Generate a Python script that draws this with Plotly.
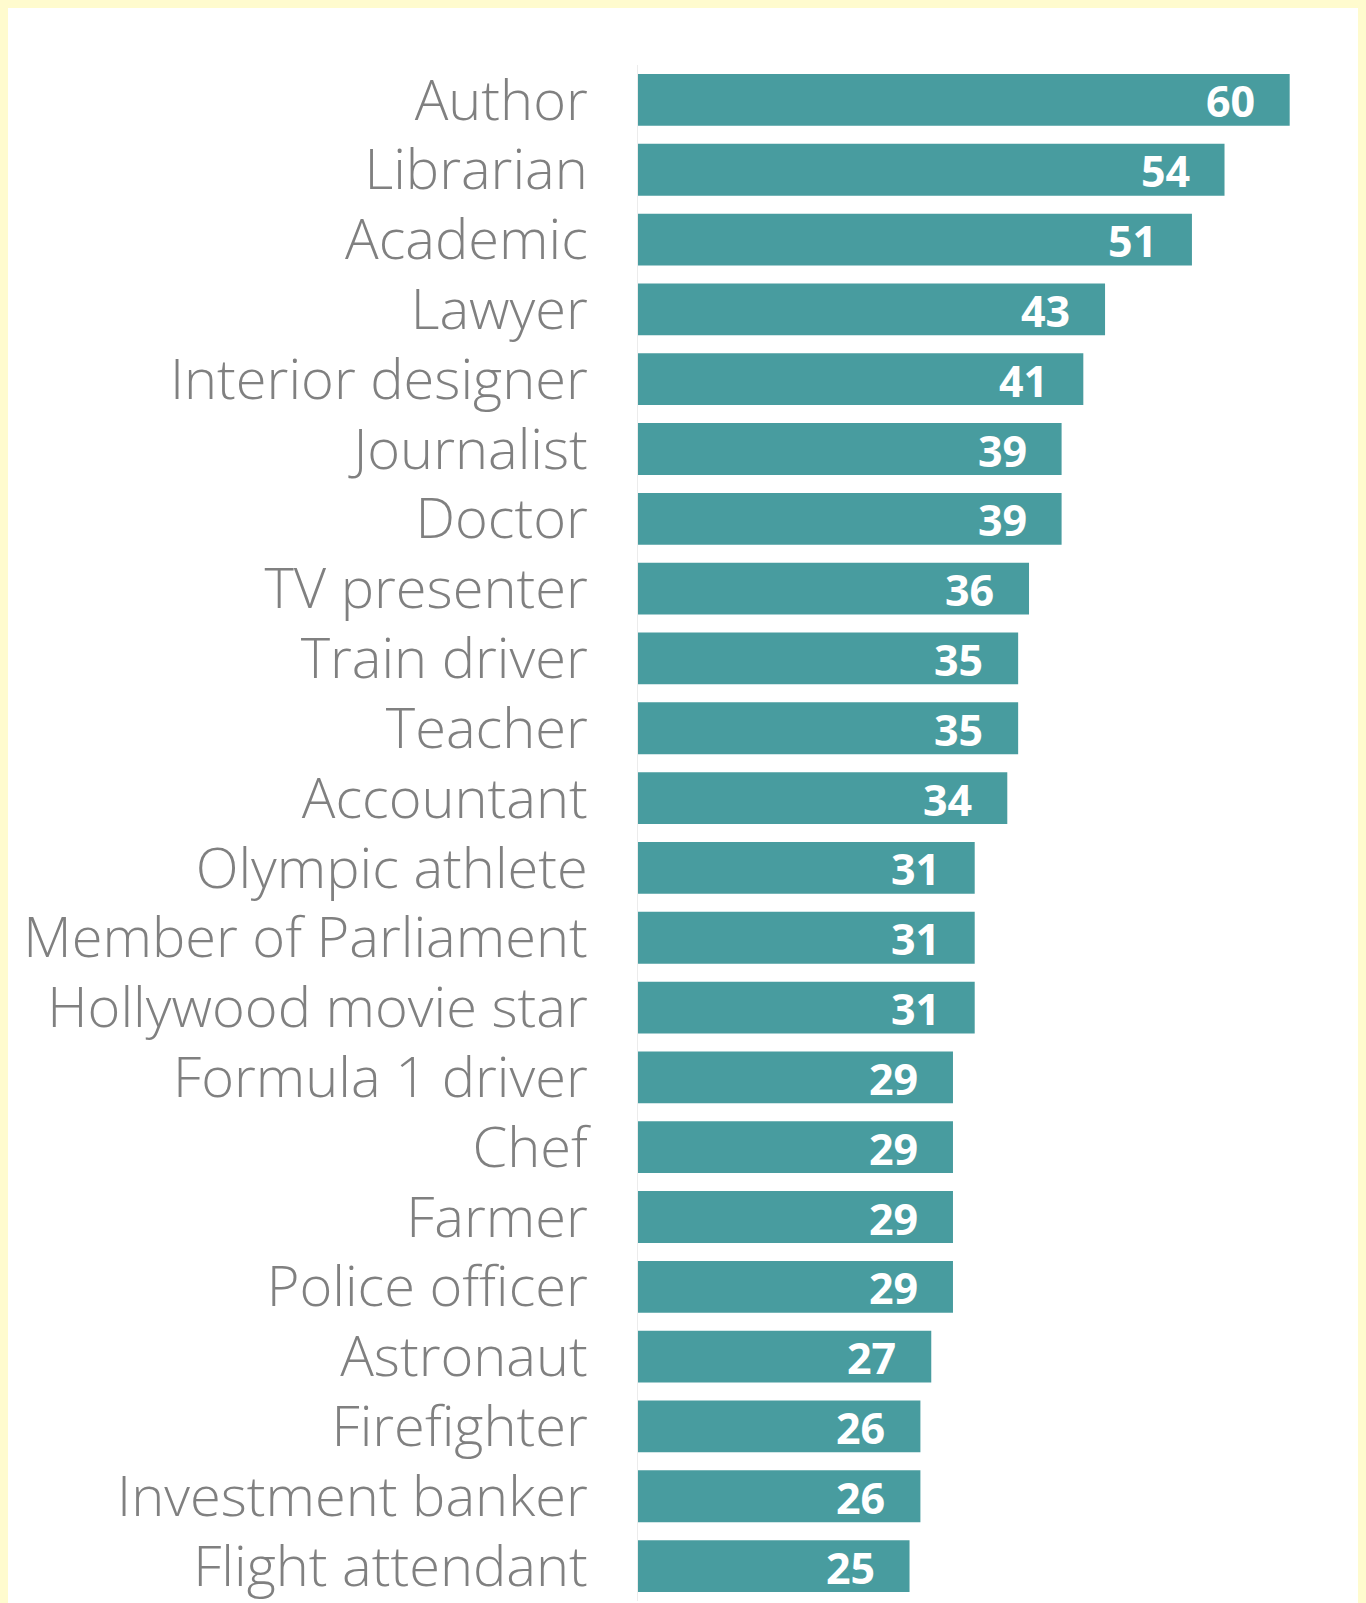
import plotly.graph_objects as go

occupations = [
    "Author", "Librarian", "Academic", "Lawyer", "Interior designer",
    "Journalist", "Doctor", "TV presenter", "Train driver", "Teacher",
    "Accountant", "Olympic athlete", "Member of Parliament",
    "Hollywood movie star", "Formula 1 driver", "Chef", "Farmer",
    "Police officer", "Astronaut", "Firefighter", "Investment banker",
    "Flight attendant",
]
values = [60, 54, 51, 43, 41, 39, 39, 36, 35, 35, 34, 31, 31, 31,
          29, 29, 29, 29, 27, 26, 26, 25]

BAR_COLOR = "#489C9F"
LABEL_COLOR = "#808080"

W, H = 1352, 1595
ML, MT, MB = 630, 57, 2
XMAX = 65
PX_PER_UNIT = 10.86
MR = W - ML - round(XMAX * PX_PER_UNIT)

fig = go.Figure(
    go.Bar(
        x=values,
        y=occupations,
        orientation="h",
        marker=dict(color=BAR_COLOR, line=dict(width=0)),
        hoverinfo="x+y",
    )
)

for occ, v in zip(occupations, values):
    fig.add_annotation(
        x=v, y=occ, xref="x", yref="y",
        text=str(v), showarrow=False,
        xanchor="right", yanchor="middle", xshift=-33, yshift=-1,
        font=dict(family="Open Sans", size=43, color="white", weight="bold"),
    )

fig.update_layout(
    width=W, height=H,
    margin=dict(l=ML, r=MR, t=MT, b=MB, pad=0, autoexpand=False),
    paper_bgcolor="white",
    plot_bgcolor="white",
    bargap=0.258,
    showlegend=False,
    xaxis=dict(
        range=[0, XMAX], visible=False, showgrid=False, zeroline=False,
        fixedrange=True, automargin=False,
    ),
    yaxis=dict(
        categoryorder="array", categoryarray=occupations,
        autorange="reversed", automargin=False,
        showgrid=False, zeroline=False,
        showline=True, linecolor="#ececec", linewidth=1,
        ticks="", ticklabelstandoff=38,
        tickfont=dict(family="Open Sans", size=56, color=LABEL_COLOR, weight=300),
        fixedrange=True,
    ),
)

fig.write_html(
    "out.html",
    config={"displayModeBar": False},
    post_script="document.body.style.background='#FFFBCE';document.body.style.overflow='hidden';",
)
